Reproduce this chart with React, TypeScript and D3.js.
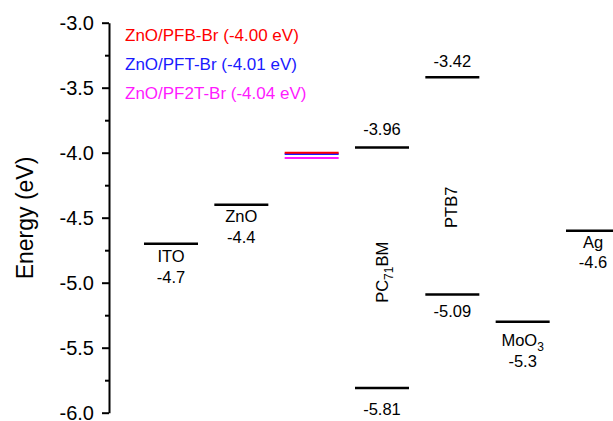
import { useEffect, useRef } from "react";
import * as d3 from "d3";

// energy levels (eV)
const materials = ["ITO", "ZnO", "Interlayer", "PC71BM", "PTB7", "MoO3", "Ag"];
const upperLevels = [-4.7, -4.4, null, -3.96, -3.42, -5.3, -4.6];
const lowerLevels = [null, null, null, -5.81, -5.09, null, null];

const interlayerNames = ["ZnO/PFB-Br", "ZnO/PFT-Br", "ZnO/PF2T-Br"];
const interlayerValues = [-4.0, -4.01, -4.04];
const interlayerColors = ["#ff0000", "#1a1aff", "#ff1aff"];

const majorTicks = [-3.0, -3.5, -4.0, -4.5, -5.0, -5.5, -6.0];
const minorTicks = [-3.25, -3.75, -4.25, -4.75, -5.25, -5.75];

const W = 613;
const H = 421;
const FONT = "'Liberation Sans', Arial, sans-serif";

const App = () => {
  const ref = useRef<SVGSVGElement>(null);

  useEffect(() => {
    const svg = d3.select(ref.current);
    svg.selectAll("*").remove();

    const y = d3.scaleLinear().domain([-3, -6]).range([22.7, 412.7]);
    const x = d3.scalePoint().domain(materials).range([171, 593]);
    const half = 27;

    // y axis
    const axisG = svg.append("g").attr("transform", "translate(109,0)");
    axisG
      .call(
        d3
          .axisLeft(y)
          .tickValues(majorTicks)
          .tickSize(7)
          .tickSizeOuter(0)
          .tickPadding(8)
          .tickFormat((d) => (d as number).toFixed(1))
      )
      .call((g) => g.select(".domain").attr("stroke-width", 2))
      .call((g) => g.selectAll(".tick line").attr("stroke-width", 2))
      .call((g) =>
        g
          .selectAll(".tick text")
          .attr("font-family", FONT)
          .attr("font-size", 20)
          .attr("fill", "#000")
      );
    svg
      .append("g")
      .attr("transform", "translate(109,0)")
      .call(d3.axisLeft(y).tickValues(minorTicks).tickSize(4).tickSizeOuter(0).tickFormat(() => ""))
      .call((g) => g.select(".domain").remove())
      .call((g) => g.selectAll(".tick line").attr("stroke-width", 2));

    svg
      .append("text")
      .attr("transform", "translate(33,218) rotate(-90)")
      .attr("text-anchor", "middle")
      .attr("font-family", FONT)
      .attr("font-size", 23)
      .text("Energy (eV)");

    const levels = svg.append("g");
    const drawLevel = (name: string, v: number, color = "#000", sw = 2.5) => {
      levels
        .append("line")
        .attr("x1", (x(name) as number) - half)
        .attr("x2", (x(name) as number) + half)
        .attr("y1", y(v))
        .attr("y2", y(v))
        .attr("stroke", color)
        .attr("stroke-width", sw);
    };
    materials.forEach((m, i) => {
      if (upperLevels[i] != null) drawLevel(m, upperLevels[i] as number);
      if (lowerLevels[i] != null) drawLevel(m, lowerLevels[i] as number);
    });
    // draw the deepest first so the red one stays on top
    for (let i = interlayerValues.length - 1; i >= 0; i--) {
      drawLevel("Interlayer", interlayerValues[i], interlayerColors[i], 2);
    }

    const label = (name: string, v: number, dy: number, txt: string) =>
      svg
        .append("text")
        .attr("x", x(name) as number)
        .attr("y", y(v) + dy)
        .attr("text-anchor", "middle")
        .attr("font-family", FONT)
        .attr("font-size", 16.5)
        .text(txt);

    const fmt = (v: number) => String(v);
    const up = (name: string) => upperLevels[materials.indexOf(name)] as number;
    const low = (name: string) => lowerLevels[materials.indexOf(name)] as number;

    label("ITO", up("ITO"), 18, "ITO");
    label("ITO", up("ITO"), 39, fmt(up("ITO")));
    label("ZnO", up("ZnO"), 17, "ZnO");
    label("ZnO", up("ZnO"), 38, fmt(up("ZnO")));
    label("Ag", up("Ag"), 17, "Ag");
    label("Ag", up("Ag"), 37, fmt(up("Ag")));
    label("PC71BM", up("PC71BM"), -13, fmt(up("PC71BM")));
    label("PC71BM", low("PC71BM"), 27, fmt(low("PC71BM")));
    label("PTB7", up("PTB7"), -10, fmt(up("PTB7")));
    label("PTB7", low("PTB7"), 23, fmt(low("PTB7")));
    label("MoO3", up("MoO3"), 45, fmt(up("MoO3")));

    const moo = label("MoO3", up("MoO3"), 24, "MoO");
    moo.append("tspan").attr("font-size", 12).attr("dy", 5).text("3");

    // rotated names
    const rot = (name: string, v: number, dx: number) =>
      svg
        .append("text")
        .attr("transform", `translate(${(x(name) as number) + dx},${y(v)}) rotate(-90)`)
        .attr("text-anchor", "middle")
        .attr("font-family", FONT)
        .attr("font-size", 16.5);
    rot("PTB7", -4.42, 5).text("PTB7");
    const pc = rot("PC71BM", -4.92, 5.5);
    pc.append("tspan").text("PC");
    pc.append("tspan").attr("font-size", 12).attr("dy", 5).text("71");
    pc.append("tspan").attr("dy", -5).text("BM");

    // legend
    interlayerNames.forEach((n, i) => {
      svg
        .append("text")
        .attr("x", 125)
        .attr("y", 41 + i * 29)
        .attr("font-family", FONT)
        .attr("font-size", 17)
        .attr("fill", interlayerColors[i])
        .text(`${n} (${interlayerValues[i].toFixed(2)} eV)`);
    });
  }, []);

  return (
    <svg
      ref={ref}
      width={W}
      height={H}
      style={{ position: "absolute", left: 0, top: 0, background: "#fff" }}
    />
  );
};

export default App;
